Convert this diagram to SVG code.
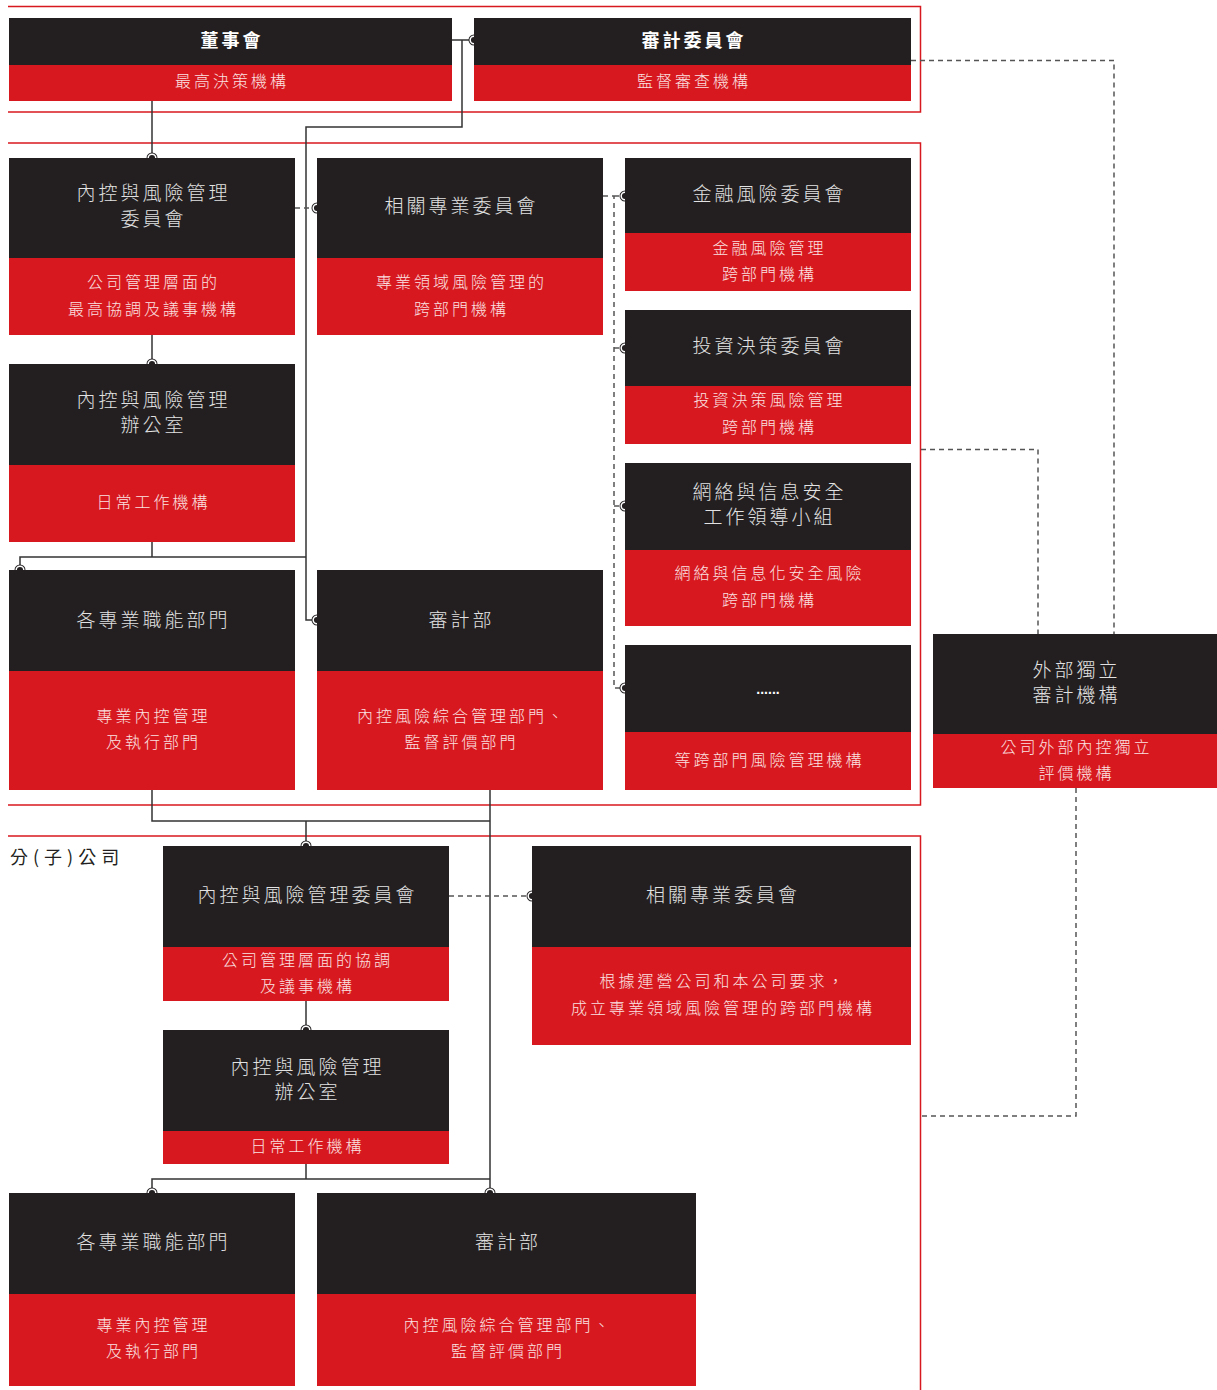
<svg xmlns="http://www.w3.org/2000/svg" width="1217" height="1390" viewBox="0 0 1217 1390">
<defs>
<g id="dot"><circle r="5.5" fill="#231f20"/><circle r="3.8" fill="#231f20" stroke="#fff" stroke-width="1.5"/></g>
</defs>
<style>
.dk{fill:#231f20}
.rd{fill:#d7191f}
.t{font-family:"Noto Sans CJK TC","Noto Sans CJK SC",sans-serif;font-size:19px;font-weight:300;fill:#e2e2e2;text-anchor:middle;letter-spacing:3px}
.tb{font-family:"Noto Sans CJK TC","Noto Sans CJK SC",sans-serif;font-size:18px;font-weight:bold;fill:#ffffff;text-anchor:middle;letter-spacing:3px}
.s{font-family:"Noto Sans CJK TC","Noto Sans CJK SC",sans-serif;font-size:16px;font-weight:300;fill:#fbe1e1;text-anchor:middle;letter-spacing:3px}
.lbl{font-family:"Noto Sans CJK TC","Noto Sans CJK SC",sans-serif;font-size:18px;fill:#231f20;letter-spacing:5px}
.frame{fill:none;stroke:#d7191f;stroke-width:1.5}
.ln{fill:none;stroke:#333;stroke-width:1.5}
.ds{fill:none;stroke:#555;stroke-width:1.5;stroke-dasharray:5 4}
</style>
<rect width="1217" height="1390" fill="#fff"/>
<g id="frames">
<path class="frame" d="M8,6.5 H920.5 V112 H8"/>
<path class="frame" d="M8,143 H920.5 V805 H8"/>
<path class="frame" d="M8,836 H920.5 V1390"/>
</g>
<g id="connectors">
<path class="ln" d="M152,101 V158"/>
<path class="ln" d="M452,40 H474 M462,40 V127 H306 V620 H317"/>
<path class="ln" d="M152,335 V364"/>
<path class="ln" d="M152,542 V557 M20,570 V557 H306"/>
<path class="ln" d="M152,790 V821 H490 M490,790 V1193 M306,821 V846"/>
<path class="ln" d="M306,1001 V1030"/>
<path class="ln" d="M306,1164 V1179 M152,1193 V1179 H490"/>
<path class="ds" d="M295,208 H317"/>
<path class="ds" d="M603,196 H614 V688 H625 M614,196 H625 M614,348 H625 M614,506 H625"/>
<path class="ds" d="M911,60.5 H1114 V634"/>
<path class="ds" d="M921,449.5 H1038 V634"/>
<path class="ds" d="M1076,788 V1116 H921"/>
<path class="ds" d="M449,896 H532"/>
<use href="#dot" x="152" y="158"/>
<use href="#dot" x="474" y="40"/>
<use href="#dot" x="317" y="620"/>
<use href="#dot" x="152" y="364"/>
<use href="#dot" x="20" y="570"/>
<use href="#dot" x="306" y="846"/>
<use href="#dot" x="490" y="1193"/>
<use href="#dot" x="317" y="208"/>
<use href="#dot" x="625" y="196"/>
<use href="#dot" x="625" y="348"/>
<use href="#dot" x="625" y="506"/>
<use href="#dot" x="625" y="688"/>
<use href="#dot" x="306" y="1030"/>
<use href="#dot" x="532" y="896"/>
<use href="#dot" x="152" y="1193"/>
</g>
<g id="board">
<rect class="dk" x="9" y="18" width="443" height="47"/>
<rect class="rd" x="9" y="65" width="443" height="36"/>
<text class="tb" x="232" y="47">董事會</text>
<text class="s" x="232" y="87">最高決策機構</text>
</g>
<g id="audit-committee">
<rect class="dk" x="474" y="18" width="437" height="47"/>
<rect class="rd" x="474" y="65" width="437" height="36"/>
<text class="tb" x="694" y="47">審計委員會</text>
<text class="s" x="694" y="87">監督審查機構</text>
</g>
<g id="icrm-committee">
<rect class="dk" x="9" y="158" width="286" height="100"/>
<rect class="rd" x="9" y="258" width="286" height="77"/>
<text class="t" x="153.5" y="200">內控與風險管理</text>
<text class="t" x="153.5" y="226">委員會</text>
<text class="s" x="153.5" y="288">公司管理層面的</text>
<text class="s" x="153.5" y="315">最高協調及議事機構</text>
</g>
<g id="special-committee">
<rect class="dk" x="317" y="158" width="286" height="100"/>
<rect class="rd" x="317" y="258" width="286" height="77"/>
<text class="t" x="461.5" y="213">相關專業委員會</text>
<text class="s" x="461.5" y="288">專業領域風險管理的</text>
<text class="s" x="461.5" y="315">跨部門機構</text>
</g>
<g id="financial-risk">
<rect class="dk" x="625" y="158" width="286" height="75"/>
<rect class="rd" x="625" y="233" width="286" height="58"/>
<text class="t" x="769.5" y="201">金融風險委員會</text>
<text class="s" x="769.5" y="254">金融風險管理</text>
<text class="s" x="769.5" y="280">跨部門機構</text>
</g>
<g id="investment">
<rect class="dk" x="625" y="310" width="286" height="76"/>
<rect class="rd" x="625" y="386" width="286" height="58"/>
<text class="t" x="769.5" y="353">投資決策委員會</text>
<text class="s" x="769.5" y="406">投資決策風險管理</text>
<text class="s" x="769.5" y="433">跨部門機構</text>
</g>
<g id="cyber">
<rect class="dk" x="625" y="463" width="286" height="87"/>
<rect class="rd" x="625" y="550" width="286" height="76"/>
<text class="t" x="769.5" y="499">網絡與信息安全</text>
<text class="t" x="769.5" y="524">工作領導小組</text>
<text class="s" x="769.5" y="579">網絡與信息化安全風險</text>
<text class="s" x="769.5" y="606">跨部門機構</text>
</g>
<g id="etc">
<rect class="dk" x="625" y="645" width="286" height="87"/>
<rect class="rd" x="625" y="732" width="286" height="58"/>
<text x="768" y="694" style="font-family:'Liberation Sans',sans-serif;font-size:14px;font-weight:bold;fill:#fff;text-anchor:middle">......</text>
<text class="s" x="769.5" y="766">等跨部門風險管理機構</text>
</g>
<g id="icrm-office">
<rect class="dk" x="9" y="364" width="286" height="101"/>
<rect class="rd" x="9" y="465" width="286" height="77"/>
<text class="t" x="153.5" y="407">內控與風險管理</text>
<text class="t" x="153.5" y="432">辦公室</text>
<text class="s" x="153.5" y="508">日常工作機構</text>
</g>
<g id="functional-depts">
<rect class="dk" x="9" y="570" width="286" height="101"/>
<rect class="rd" x="9" y="671" width="286" height="119"/>
<text class="t" x="153.5" y="627">各專業職能部門</text>
<text class="s" x="153.5" y="722">專業內控管理</text>
<text class="s" x="153.5" y="748">及執行部門</text>
</g>
<g id="audit-dept">
<rect class="dk" x="317" y="570" width="286" height="101"/>
<rect class="rd" x="317" y="671" width="286" height="119"/>
<text class="t" x="461.5" y="627">審計部</text>
<text class="s" x="461.5" y="722">內控風險綜合管理部門、</text>
<text class="s" x="461.5" y="748">監督評價部門</text>
</g>
<g id="external-auditor">
<rect class="dk" x="933" y="634" width="284" height="100"/>
<rect class="rd" x="933" y="734" width="284" height="54"/>
<text class="t" x="1076.5" y="677">外部獨立</text>
<text class="t" x="1076.5" y="702">審計機構</text>
<text class="s" x="1076.5" y="753">公司外部內控獨立</text>
<text class="s" x="1076.5" y="779">評價機構</text>
</g>
<g id="subsidiary-label">
<text class="lbl" x="10" y="864">分(子)公司</text>
</g>
<g id="sub-icrm-committee">
<rect class="dk" x="163" y="846" width="286" height="101"/>
<rect class="rd" x="163" y="947" width="286" height="54"/>
<text class="t" x="307.5" y="902">內控與風險管理委員會</text>
<text class="s" x="307.5" y="966">公司管理層面的協調</text>
<text class="s" x="307.5" y="992">及議事機構</text>
</g>
<g id="sub-special-committee">
<rect class="dk" x="532" y="846" width="379" height="101"/>
<rect class="rd" x="532" y="947" width="379" height="98"/>
<text class="t" x="723" y="902">相關專業委員會</text>
<text class="s" x="723" y="987">根據運營公司和本公司要求，</text>
<text class="s" x="723" y="1014">成立專業領域風險管理的跨部門機構</text>
</g>
<g id="sub-icrm-office">
<rect class="dk" x="163" y="1030" width="286" height="101"/>
<rect class="rd" x="163" y="1131" width="286" height="33"/>
<text class="t" x="307.5" y="1074">內控與風險管理</text>
<text class="t" x="307.5" y="1099">辦公室</text>
<text class="s" x="307.5" y="1152">日常工作機構</text>
</g>
<g id="sub-functional-depts">
<rect class="dk" x="9" y="1193" width="286" height="101"/>
<rect class="rd" x="9" y="1294" width="286" height="92"/>
<text class="t" x="153.5" y="1249">各專業職能部門</text>
<text class="s" x="153.5" y="1331">專業內控管理</text>
<text class="s" x="153.5" y="1357">及執行部門</text>
</g>
<g id="sub-audit-dept">
<rect class="dk" x="317" y="1193" width="379" height="101"/>
<rect class="rd" x="317" y="1294" width="379" height="92"/>
<text class="t" x="508" y="1249">審計部</text>
<text class="s" x="508" y="1331">內控風險綜合管理部門、</text>
<text class="s" x="508" y="1357">監督評價部門</text>
</g>
</svg>
